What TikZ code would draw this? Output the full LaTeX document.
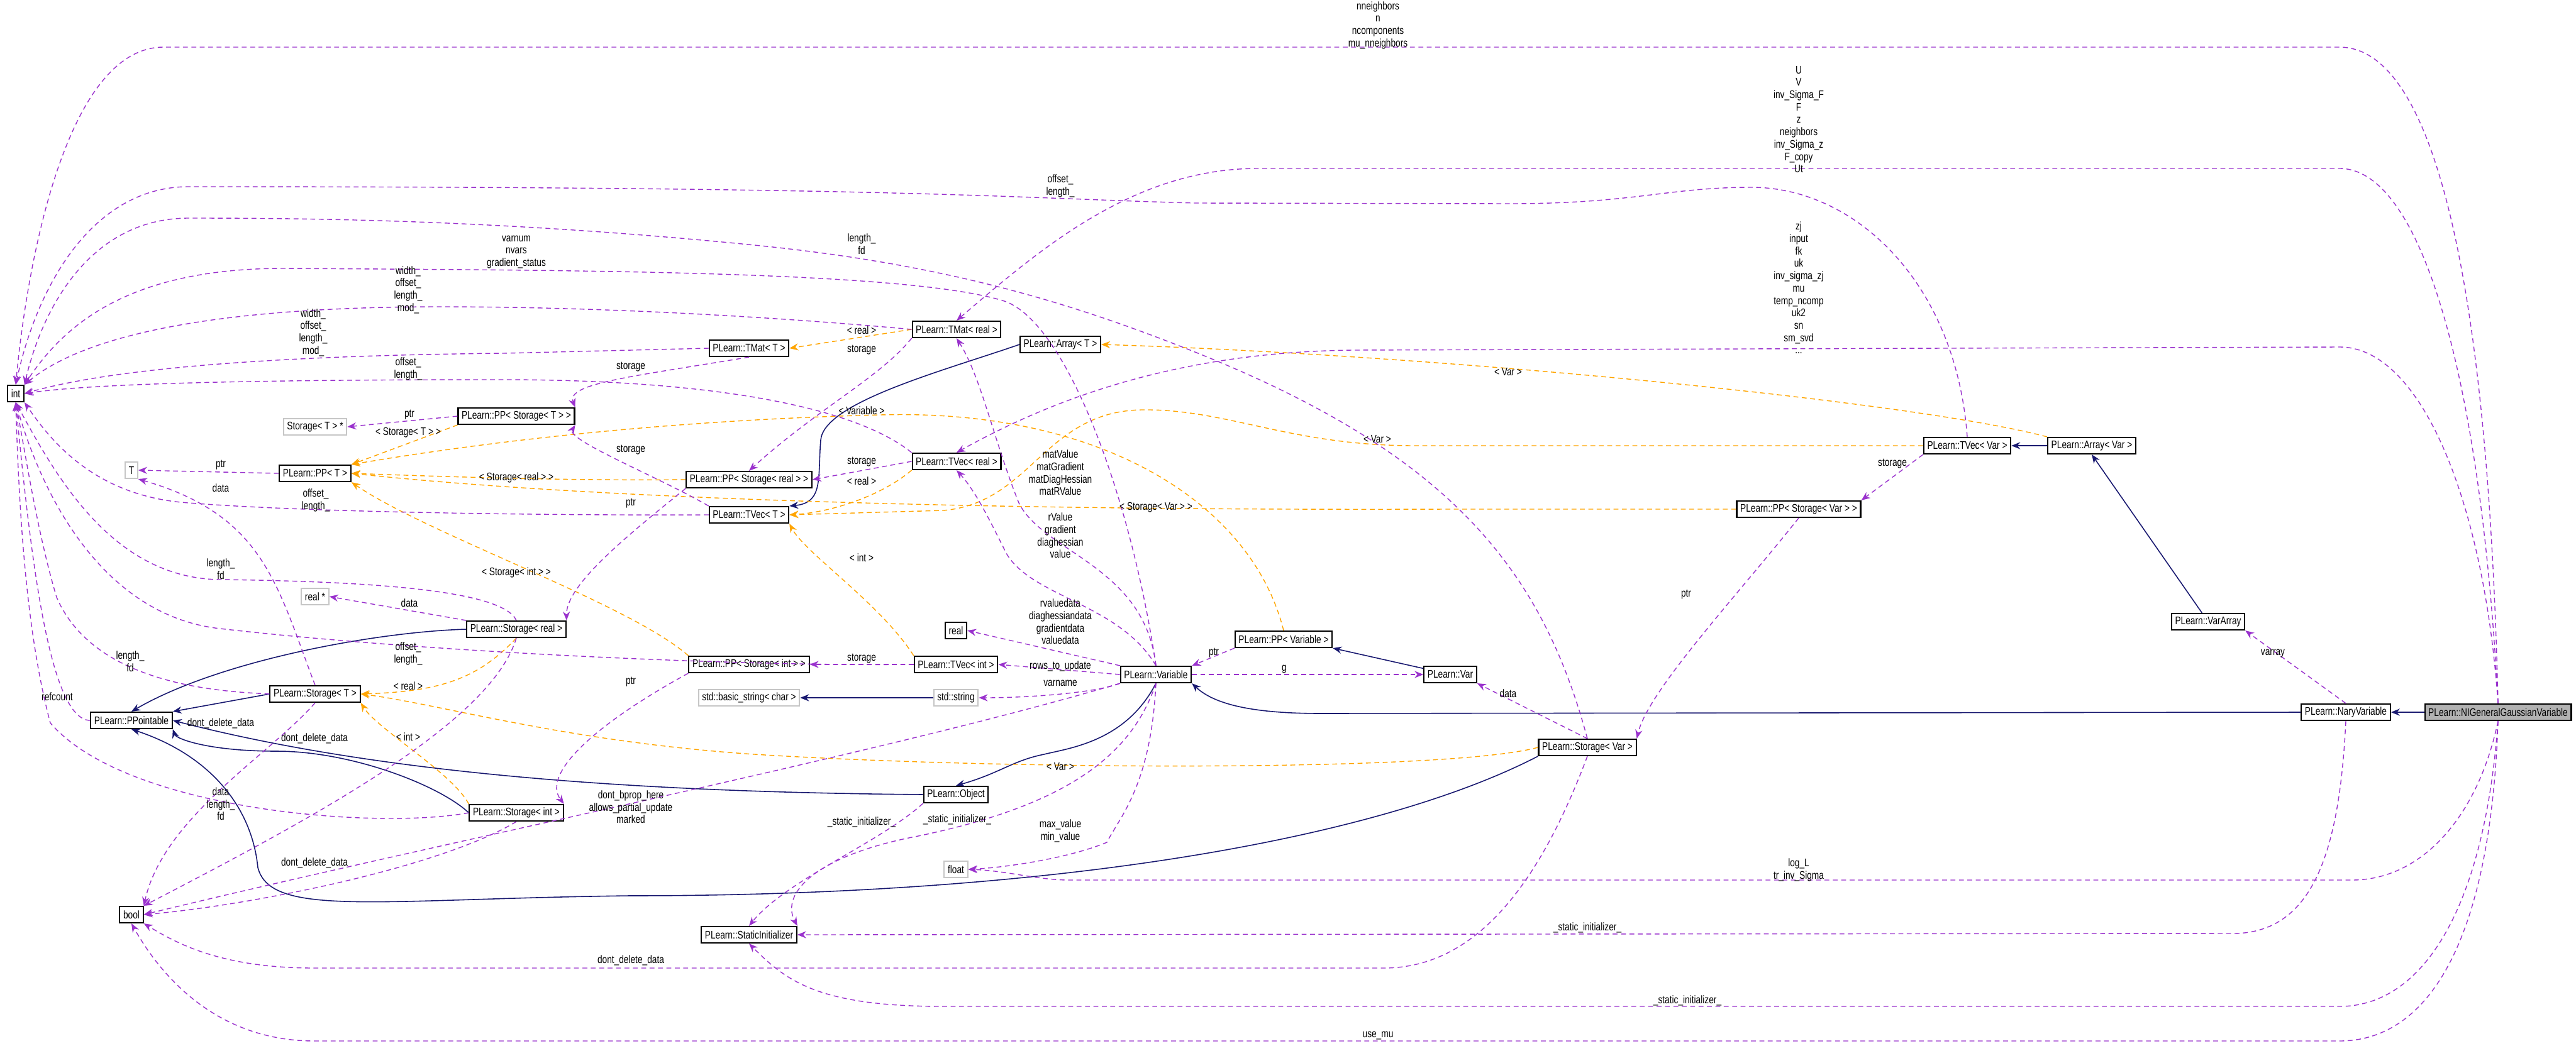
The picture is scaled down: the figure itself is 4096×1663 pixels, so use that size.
\documentclass[tikz,border=0pt]{standalone}
\usepackage{fontspec}
\setmainfont[FakeStretch=0.78]{Liberation Sans}
\usetikzlibrary{arrows.meta}
\definecolor{usec}{HTML}{9A32CD}
\definecolor{tplc}{HTML}{FFA500}
\definecolor{inhc}{HTML}{191970}
\tikzset{
  x=0.01cm,y=-0.01cm,
  every node/.style={font=\fontsize{5}{5.6}\selectfont},
  box/.style={draw=black,line width=0.6pt,fill=white,inner xsep=1.6pt,inner ysep=0pt,minimum height=0.26cm},
  gbox/.style={box,draw=gray!45},
  hbox/.style={box,fill=gray!60},
  lbl/.style={align=center,inner sep=0pt},
  use/.style={draw=usec,dashed,dash pattern=on 2.2pt off 1.6pt,line width=0.4pt,-{Stealth[length=4pt,width=3.2pt]}},
  tpl/.style={draw=tplc,dashed,dash pattern=on 2.2pt off 1.6pt,line width=0.4pt,-{Stealth[length=4pt,width=3.2pt]}},
  inh/.style={draw=inhc,line width=0.45pt,-{Stealth[length=4pt,width=3.2pt]}},
}
\begin{document}
\begin{tikzpicture}
\useasboundingbox (0,0) rectangle (4096,1663);
% nodes
\node[box] (int) at (25,626) {int};
\node[box] (bool) at (209,1455) {bool};
\node[box] (ppo) at (209,1146) {PLearn::PPointable};
\node[gbox] (T) at (209,748) {T};
\node[gbox] (stp) at (501,679) {Storage\textless\ T \textgreater\ *};
\node[box] (ppt) at (501,753) {PLearn::PP\textless\ T \textgreater};
\node[gbox] (realp) at (501,949) {real *};
\node[box] (st) at (501,1104) {PLearn::Storage\textless\ T \textgreater};
\node[box] (ppst) at (821,662) {PLearn::PP\textless\ Storage\textless\ T \textgreater\ \textgreater};
\node[box] (sreal) at (821,1001) {PLearn::Storage\textless\ real \textgreater};
\node[box] (sint) at (821,1293) {PLearn::Storage\textless\ int \textgreater};
\node[box] (tmatt) at (1191,554) {PLearn::TMat\textless\ T \textgreater};
\node[box] (ppsreal) at (1191,763) {PLearn::PP\textless\ Storage\textless\ real \textgreater\ \textgreater};
\node[box] (tvect) at (1191,819) {PLearn::TVec\textless\ T \textgreater};
\node[box] (ppsint) at (1191,1057) {PLearn::PP\textless\ Storage\textless\ int \textgreater\ \textgreater};
\node[gbox] (bstr) at (1191,1110) {std::basic\_string\textless\ char \textgreater};
\node[box] (sinit) at (1191,1487) {PLearn::StaticInitializer};
\node[box] (tmatr) at (1521,524) {PLearn::TMat\textless\ real \textgreater};
\node[box] (tvecr) at (1521,734) {PLearn::TVec\textless\ real \textgreater};
\node[box] (arrt) at (1686,548) {PLearn::Array\textless\ T \textgreater};
\node[box] (real) at (1520,1003) {real};
\node[box] (tveci) at (1520,1057) {PLearn::TVec\textless\ int \textgreater};
\node[gbox] (str) at (1520,1110) {std::string};
\node[box] (obj) at (1520,1264) {PLearn::Object};
\node[gbox] (float) at (1520,1383) {float};
\node[box] (var) at (1838,1073) {PLearn::Variable};
\node[box] (ppv) at (2041,1017) {PLearn::PP\textless\ Variable \textgreater};
\node[box] (vr) at (2306,1073) {PLearn::Var};
\node[box] (svar) at (2524,1189) {PLearn::Storage\textless\ Var \textgreater};
\node[box] (ppsvar) at (2860,810) {PLearn::PP\textless\ Storage\textless\ Var \textgreater\ \textgreater};
\node[box] (tvecv) at (3128,709) {PLearn::TVec\textless\ Var \textgreater};
\node[box] (arrv) at (3326,709) {PLearn::Array\textless\ Var \textgreater};
\node[box] (vara) at (3511,989) {PLearn::VarArray};
\node[box] (nary) at (3730,1133) {PLearn::NaryVariable};
\node[hbox] (nig) at (3972,1133) {PLearn::NIGeneralGaussianVariable};

% ---------- inheritance
\draw[inh] (nig) -- (nary);
\draw[inh] (nary.west) -- (2100,1135) .. controls (1990,1135) and (1930,1120) .. (var.south east);
\draw[inh] (vara) -- (arrv.south);
\draw[inh] (arrv) -- (tvecv);
\draw[inh] (arrt.west) .. controls (1500,590) and (1310,640) .. (1305,700) .. controls (1300,760) and (1310,800) .. (tvect.north east);
\draw[inh] (var.south) .. controls (1790,1180) and (1700,1190) .. (1660,1200) .. controls (1610,1210) and (1590,1230) .. (obj.north);
\draw[inh] (obj.west) .. controls (1000,1260) and (600,1230) .. (ppo.east);
\draw[inh] (st.west) -- (ppo.north east);
\draw[inh] (sreal.west) .. controls (600,1005) and (350,1050) .. (ppo.north);
\draw[inh] (sint.west) .. controls (700,1250) and (560,1195) .. (440,1195) .. controls (330,1195) and (280,1175) .. (ppo.south east);
\draw[inh] (svar.south west) .. controls (2200,1330) and (1700,1425) .. (1000,1425) .. controls (600,1430) and (430,1460) .. (410,1380) .. controls (400,1280) and (330,1200) .. (ppo.south);
\draw[inh] (str) -- (bstr);
\draw[inh] (vr) -- (ppv.south east);

% ---------- template instances
\draw[tpl] (ppst.south west) -- (ppt.north east);
\draw[tpl] (ppsreal.west) .. controls (900,765) and (700,758) .. (ppt.east);
\draw[tpl] (ppsint.north west) .. controls (1000,960) and (680,850) .. (ppt.south east);
\draw[tpl] (ppsvar.west) -- (2300,810) .. controls (1700,812) and (1000,800) .. (ppt.east);
\draw[tpl] (ppv.north) .. controls (1990,800) and (1750,650) .. (1400,660) .. controls (1000,670) and (700,715) .. (ppt.north east);
\draw[tpl] (tmatr.west) -- (tmatt.east);
\draw[tpl] (tvecr.south west) .. controls (1400,790) and (1320,815) .. (tvect.east);
\draw[tpl] (tveci.north west) .. controls (1400,960) and (1280,880) .. (tvect.south east);
\draw[tpl] (tvecv.west) -- (2250,709) .. controls (2050,709) and (1950,650) .. (1815,652) .. controls (1660,655) and (1640,800) .. (1500,812) -- (tvect.east);
\draw[tpl] (arrv.north west) .. controls (3050,640) and (2300,565) .. (arrt.east);
\draw[tpl] (sreal.south) .. controls (760,1080) and (700,1100) .. (st.east);
\draw[tpl] (sint.north west) .. controls (720,1230) and (600,1160) .. (st.south east);
\draw[tpl] (svar.west) .. controls (2300,1228) and (1600,1225) .. (1200,1200) .. controls (900,1180) and (700,1120) .. (st.east);

% ---------- usage: int
\draw[use] (nig.north) .. controls (3955,400) and (3860,75) .. (3720,75) -- (260,75) .. controls (110,75) and (45,400) .. (int.north);
\draw[use] (tvecv.north) .. controls (3110,450) and (2950,298) .. (2785,298) .. controls (2650,298) and (2600,324) .. (2400,324) -- (1900,323) .. controls (1600,315) and (1450,297) .. (300,297) .. controls (150,297) and (60,450) .. (int.north);
\draw[use] (svar.north) .. controls (2450,900) and (2300,720) .. (1900,560) .. controls (1700,480) and (1500,420) .. (1200,390) .. controls (800,350) and (500,347) .. (300,347) .. controls (150,347) and (70,480) .. (int.north east);
\draw[use] (var.north) .. controls (1800,800) and (1700,520) .. (1600,480) .. controls (1450,430) and (900,430) .. (450,427) .. controls (200,427) and (100,520) .. (int.north east);
\draw[use] (tmatr.west) .. controls (1300,510) and (1000,488) .. (700,488) .. controls (400,488) and (150,520) .. (int.north east);
\draw[use] (tmatt.west) -- (800,562) .. controls (500,565) and (200,580) .. (int.east);
\draw[use] (tvecr.north west) .. controls (1350,640) and (1100,604) .. (800,604) .. controls (400,604) and (150,610) .. (int.east);
\draw[use] (tvect.west) .. controls (900,820) and (500,816) .. (300,800) .. controls (150,790) and (80,700) .. (int.south east);
\draw[use] (sreal.north) .. controls (800,940) and (600,925) .. (350,922) .. controls (180,920) and (90,760) .. (int.south);
\draw[use] (tveci.west) .. controls (1200,1060) and (700,1040) .. (350,1000) .. controls (170,980) and (70,800) .. (int.south);
\draw[use] (st.west) .. controls (350,1100) and (150,1090) .. (90,950) .. controls (60,850) and (40,720) .. (int.south);
\draw[use] (ppo.west) .. controls (80,1145) and (50,900) .. (int.south);
\draw[use] (sint.west) .. controls (600,1320) and (200,1290) .. (80,1150) .. controls (40,1000) and (30,800) .. (int.south);

% ---------- usage: others
\draw[use] (ppst.west) -- (stp.east);
\draw[use] (ppt.west) -- (T.east);
\draw[use] (st.north) .. controls (440,930) and (420,820) .. (T.south east);
\draw[use] (sreal.north west) -- (realp.east);
\draw[use] (tmatt.south) .. controls (1000,600) and (900,610) .. (ppst.north east);
\draw[use] (tvect.north west) .. controls (1050,760) and (900,700) .. (ppst.south east);
\draw[use] (ppsreal.south west) .. controls (1000,850) and (900,930) .. (sreal.north east);
\draw[use] (tmatr.south west) .. controls (1400,600) and (1300,650) .. (ppsreal.north);
\draw[use] (tvecr.west) -- (ppsreal.east);
\draw[use] (ppsint.south west) .. controls (950,1150) and (860,1230) .. (sint.north east);
\draw[use] (tveci.west) -- (ppsint.east);
\draw[use] (var.north west) -- (real.east);
\draw[use] (var.west) -- (tveci.east);
\draw[use] (var.south west) .. controls (1750,1100) and (1650,1110) .. (str.east);
\draw[use] (var.south) .. controls (1830,1250) and (1780,1300) .. (1760,1340) .. controls (1700,1365) and (1600,1380) .. (float.east);
\draw[use] (var.south) .. controls (1800,1200) and (1700,1280) .. (1460,1330) .. controls (1300,1360) and (1240,1420) .. (sinit.north east);
\draw[use] (obj.south west) .. controls (1400,1340) and (1250,1400) .. (sinit.north);
\draw[use] (var.south west) .. controls (1400,1200) and (700,1340) .. (bool.east);
\draw[use] (var.north) .. controls (1820,900) and (1660,880) .. (1620,800) .. controls (1580,700) and (1560,600) .. (tmatr.south);
\draw[use] (var.north) .. controls (1780,960) and (1640,950) .. (1600,880) .. controls (1570,820) and (1550,780) .. (tvecr.south);
\draw[use] (ppv.south west) -- (var.north east);
\draw[use] (var.east) -- (vr.west);
\draw[use] (svar.north) -- (vr.south east);
\draw[use] (ppsvar.south) .. controls (2760,950) and (2620,1100) .. (svar.north east);
\draw[use] (tvecv.south west) -- (ppsvar.north east);
\draw[use] (nary.north) -- (vara.south east);
\draw[use] (nig.north) .. controls (3945,600) and (3850,268) .. (3720,268) -- (2000,268) .. controls (1800,268) and (1650,400) .. (tmatr.north);
\draw[use] (nig.north) .. controls (3950,800) and (3850,552) .. (3720,552) -- (2150,557) .. controls (1900,560) and (1700,620) .. (tvecr.north);
\draw[use] (nig.south) .. controls (3940,1300) and (3850,1400) .. (3740,1400) -- (1700,1400) .. controls (1650,1400) and (1600,1385) .. (float.east);
\draw[use] (nary.south) .. controls (3720,1350) and (3680,1485) .. (3550,1485) -- (sinit.east);
\draw[use] (nig.south) .. controls (3950,1450) and (3850,1601) .. (3720,1601) -- (1500,1601) .. controls (1300,1601) and (1250,1560) .. (sinit.south);
\draw[use] (nig.south) .. controls (3960,1500) and (3860,1656) .. (3720,1656) -- (500,1656) .. controls (350,1656) and (260,1560) .. (bool.south);
\draw[use] (svar.south) .. controls (2450,1400) and (2350,1540) .. (2200,1540) -- (500,1540) .. controls (350,1540) and (280,1500) .. (bool.south east);
\draw[use] (st.south) .. controls (430,1200) and (260,1300) .. (bool.north east);
\draw[use] (sreal.south) .. controls (780,1150) and (500,1300) .. (bool.north east);
\draw[use] (sint.south) .. controls (700,1380) and (400,1440) .. (bool.east);

% ---------- labels
\node[lbl] at (2191,40) {nneighbors\\n\\ncomponents\\mu\_nneighbors};
\node[lbl] at (2860,190) {U\\V\\inv\_Sigma\_F\\F\\z\\neighbors\\inv\_Sigma\_z\\F\_copy\\Ut};
\node[lbl] at (2860,458) {zj\\input\\fk\\uk\\inv\_sigma\_zj\\mu\\temp\_ncomp\\uk2\\sn\\sm\_svd\\...};
\node[lbl] at (1686,296) {offset\_\\length\_};
\node[lbl] at (1370,388) {length\_\\fd};
\node[lbl] at (821,401) {varnum\\nvars\\gradient\_status};
\node[lbl] at (649,461) {width\_\\offset\_\\length\_\\mod\_};
\node[lbl] at (498,529) {width\_\\offset\_\\length\_\\mod\_};
\node[lbl] at (649,587) {offset\_\\length\_};
\node[lbl] at (502,796) {offset\_\\length\_};
\node[lbl] at (351,905) {length\_\\fd};
\node[lbl] at (649,1040) {offset\_\\length\_};
\node[lbl] at (207,1052) {length\_\\fd};
\node[lbl] at (91,1108) {refcount};
\node[lbl] at (351,1279) {data\\length\_\\fd};
\node[lbl] at (351,1151) {dont\_delete\_data};
\node[lbl] at (500,1175) {dont\_delete\_data};
\node[lbl] at (500,1373) {dont\_delete\_data};
\node[lbl] at (1003,1528) {dont\_delete\_data};
\node[lbl] at (1003,1284) {dont\_bprop\_here\\allows\_partial\_update\\marked};
\node[lbl] at (651,660) {ptr};
\node[lbl] at (649,688) {\textless\ Storage\textless\ T \textgreater\ \textgreater};
\node[lbl] at (351,740) {ptr};
\node[lbl] at (351,776) {data};
\node[lbl] at (1003,584) {storage};
\node[lbl] at (1003,716) {storage};
\node[lbl] at (821,760) {\textless\ Storage\textless\ real \textgreater\ \textgreater};
\node[lbl] at (1003,801) {ptr};
\node[lbl] at (821,911) {\textless\ Storage\textless\ int \textgreater\ \textgreater};
\node[lbl] at (651,959) {data};
\node[lbl] at (649,1091) {\textless\ real \textgreater};
\node[lbl] at (649,1172) {\textless\ int \textgreater};
\node[lbl] at (1003,1085) {ptr};
\node[lbl] at (1370,525) {\textless\ real \textgreater};
\node[lbl] at (1370,557) {storage};
\node[lbl] at (1370,653) {\textless\ Variable \textgreater};
\node[lbl] at (1370,735) {storage};
\node[lbl] at (1370,765) {\textless\ real \textgreater};
\node[lbl] at (1370,887) {\textless\ int \textgreater};
\node[lbl] at (1370,1048) {storage};
\node[lbl] at (1686,752) {matValue\\matGradient\\matDiagHessian\\matRValue};
\node[lbl] at (1838,807) {\textless\ Storage\textless\ Var \textgreater\ \textgreater};
\node[lbl] at (1686,852) {rValue\\gradient\\diaghessian\\value};
\node[lbl] at (1686,989) {rvaluedata\\diaghessiandata\\gradientdata\\valuedata};
\node[lbl] at (1686,1060) {rows\_to\_update};
\node[lbl] at (1686,1087) {varname};
\node[lbl] at (1930,1039) {ptr};
\node[lbl] at (2042,1065) {g};
\node[lbl] at (2398,1103) {data};
\node[lbl] at (1686,1220) {\textless\ Var \textgreater};
\node[lbl] at (1370,1308) {\_static\_initializer\_};
\node[lbl] at (1522,1304) {\_static\_initializer\_};
\node[lbl] at (1686,1322) {max\_value\\min\_value};
\node[lbl] at (2190,699) {\textless\ Var \textgreater};
\node[lbl] at (2398,592) {\textless\ Var \textgreater};
\node[lbl] at (2681,946) {ptr};
\node[lbl] at (3009,738) {storage};
\node[lbl] at (3614,1040) {varray};
\node[lbl] at (2860,1384) {log\_L\\tr\_inv\_Sigma};
\node[lbl] at (2524,1476) {\_static\_initializer\_};
\node[lbl] at (2683,1592) {\_static\_initializer\_};
\node[lbl] at (2191,1647) {use\_mu};
\end{tikzpicture}
\end{document}
